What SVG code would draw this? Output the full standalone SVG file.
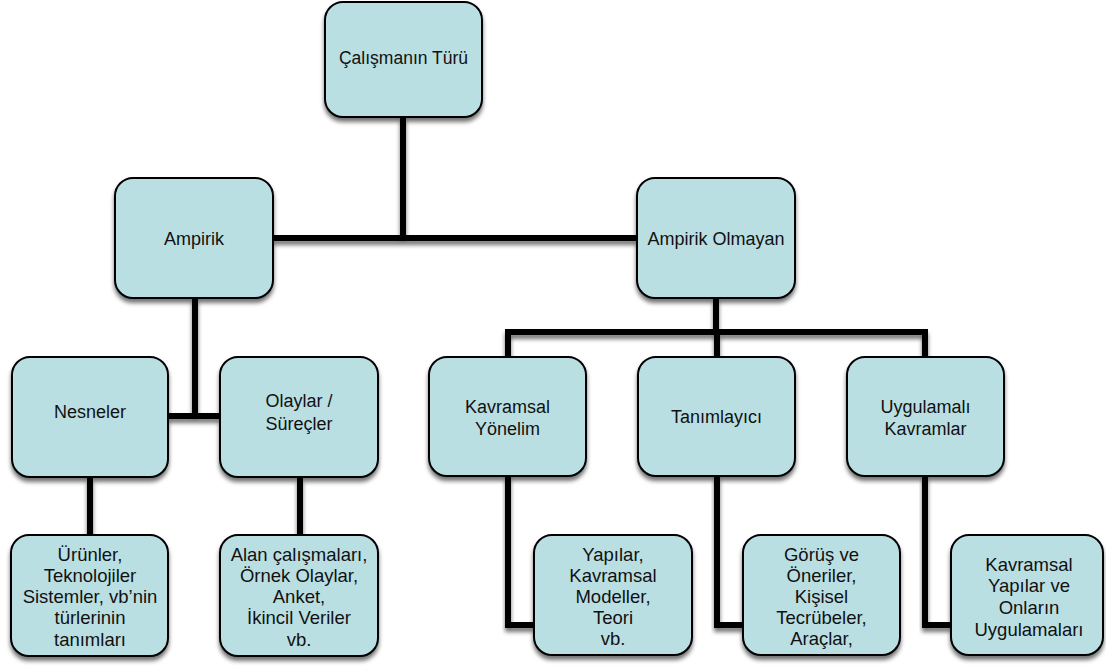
<svg xmlns="http://www.w3.org/2000/svg" width="1106" height="666" viewBox="0 0 1106 666">
  <defs>
    <filter id="shadow" x="-20%" y="-20%" width="140%" height="150%">
      <feDropShadow dx="0" dy="4" stdDeviation="2.2" flood-color="#000" flood-opacity="0.55"/>
    </filter>
  </defs>
  <style>
    .box { fill: #badfe3; stroke: #000; stroke-width: 2; filter: url(#shadow); }
    .link { fill: none; stroke: #000; stroke-width: 6; stroke-linejoin: miter; stroke-linecap: butt; filter: url(#shadow); }
    .lbl { font-family: "Liberation Sans", Arial, sans-serif; font-size: 18px; fill: #111; text-anchor: middle; }
    .top { font-size: 17.5px; }
    .sm { font-size: 18.5px; }
  </style>
  <rect width="1106" height="666" fill="#fff"/>

  <!-- connectors -->
  <g id="connectors">
    <path class="link" d="M403 117 V238 M273 238 H637"/>
    <path class="link" d="M195 298 V416 M168 416 H220"/>
    <path class="link" d="M90 478 V535 M300 478 V535"/>
    <path class="link" d="M716 298 V332 M508 332 H925 M508 329 V357 M717 329 V357 M925 329 V357"/>
    <path class="link" d="M508 476 V625 H534"/>
    <path class="link" d="M717 476 V625 H743"/>
    <path class="link" d="M925 476 V625 H951"/>
  </g>

  <!-- level 0 -->
  <g id="calismanin-turu">
    <rect class="box" x="325" y="2" width="157" height="115" rx="18"/>
    <text class="lbl top" x="403.5" y="64">Çalışmanın Türü</text>
  </g>

  <!-- level 1 -->
  <g id="ampirik">
    <rect class="box" x="115" y="178" width="158" height="120" rx="18"/>
    <text class="lbl" x="194" y="245">Ampirik</text>
  </g>
  <g id="ampirik-olmayan">
    <rect class="box" x="637" y="178" width="158" height="120" rx="18"/>
    <text class="lbl" x="716" y="245">Ampirik Olmayan</text>
  </g>

  <!-- level 2 -->
  <g id="nesneler">
    <rect class="box" x="12" y="357" width="156" height="120" rx="18"/>
    <text class="lbl" x="90" y="418">Nesneler</text>
  </g>
  <g id="olaylar">
    <rect class="box" x="220" y="357" width="158" height="120" rx="18"/>
    <text class="lbl" x="299" y="407">Olaylar /</text>
    <text class="lbl" x="299" y="430">Süreçler</text>
  </g>
  <g id="kavramsal-yonelim">
    <rect class="box" x="429" y="357" width="157" height="119" rx="18"/>
    <text class="lbl" x="507.5" y="413">Kavramsal</text>
    <text class="lbl" x="507.5" y="435">Yönelim</text>
  </g>
  <g id="tanimlayici">
    <rect class="box" x="638" y="357" width="157" height="119" rx="18"/>
    <text class="lbl" x="716.5" y="423">Tanımlayıcı</text>
  </g>
  <g id="uygulamali-kavramlar">
    <rect class="box" x="847" y="357" width="157" height="119" rx="18"/>
    <text class="lbl" x="925.5" y="413">Uygulamalı</text>
    <text class="lbl" x="925.5" y="435">Kavramlar</text>
  </g>

  <!-- level 3 -->
  <g id="urunler">
    <rect class="box" x="11" y="535" width="157" height="121" rx="18"/>
    <text class="lbl sm" x="90" y="561">Ürünler,</text>
    <text class="lbl sm" x="90" y="582">Teknolojiler</text>
    <text class="lbl sm" x="90" y="603">Sistemler, vb’nin</text>
    <text class="lbl sm" x="90" y="624">türlerinin</text>
    <text class="lbl sm" x="90" y="646">tanımları</text>
  </g>
  <g id="alan-calismalari">
    <rect class="box" x="220" y="535" width="158" height="121" rx="18"/>
    <text class="lbl sm" x="299" y="561">Alan çalışmaları,</text>
    <text class="lbl sm" x="299" y="582">Örnek Olaylar,</text>
    <text class="lbl sm" x="299" y="603">Anket,</text>
    <text class="lbl sm" x="299" y="624">İkincil Veriler</text>
    <text class="lbl sm" x="299" y="646">vb.</text>
  </g>
  <g id="yapilar">
    <rect class="box" x="534" y="535" width="158" height="120" rx="18"/>
    <text class="lbl sm" x="613" y="561">Yapılar,</text>
    <text class="lbl sm" x="613" y="582">Kavramsal</text>
    <text class="lbl sm" x="613" y="603">Modeller,</text>
    <text class="lbl sm" x="613" y="624">Teori</text>
    <text class="lbl sm" x="613" y="645">vb.</text>
  </g>
  <g id="gorus-ve-oneriler">
    <rect class="box" x="743" y="535" width="157" height="120" rx="18"/>
    <text class="lbl sm" x="821.5" y="561">Görüş ve</text>
    <text class="lbl sm" x="821.5" y="582">Öneriler,</text>
    <text class="lbl sm" x="821.5" y="603">Kişisel</text>
    <text class="lbl sm" x="821.5" y="624">Tecrübeler,</text>
    <text class="lbl sm" x="821.5" y="645">Araçlar,</text>
  </g>
  <g id="kavramsal-yapilar">
    <rect class="box" x="951" y="535" width="152" height="120" rx="18"/>
    <text class="lbl sm" x="1029" y="571">Kavramsal</text>
    <text class="lbl sm" x="1029" y="592">Yapılar ve</text>
    <text class="lbl sm" x="1029" y="614">Onların</text>
    <text class="lbl sm" x="1029" y="636">Uygulamaları</text>
  </g>
</svg>
